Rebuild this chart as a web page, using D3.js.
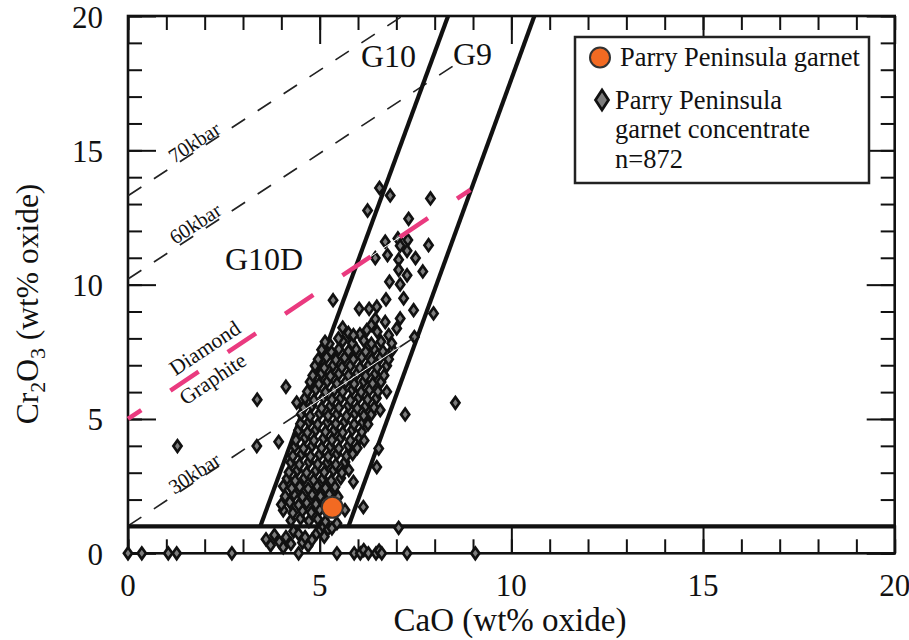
<!DOCTYPE html>
<html>
<head>
<meta charset="utf-8">
<script src="https://cdn.jsdelivr.net/npm/d3@7"></script>
<style>
  body { margin: 0; background: #fff; }
  svg { display: block; }
</style>
</head>
<body>
<svg id="chart" width="909" height="640" font-family="'Liberation Serif', 'DejaVu Serif', serif"></svg>
<script>
// ---- axis ranges and ticks ----
const caoDomain = [0, 20];
const crDomain = [0, 20];
const majorTicks = [0, 5, 10, 15, 20];
const minorTicks = [0, 1, 2, 3, 4, 5, 6, 7, 8, 9, 10, 11, 12, 13, 14, 15, 16, 17, 18, 19, 20];

// ---- classification boundaries, [CaO, Cr2O3] end points ----
const lowCrLimit = [[0, 1], [20, 1]];
const g10Divide = [[3.45, 1], [8.35, 20]];
const g9Limit = [[5.75, 1], [10.6, 20]];
const diamondGraphite = [[0, 5.0], [8.93, 13.53]];
const isobar30 = [[0, 1.02], [7.45, 8.02]];
const isobar60 = [[0, 10.21], [8.6, 18.25]];
const isobar70 = [[0, 13.31], [7.16, 20]];

// ---- Parry Peninsula garnet (single grain) ----
const parryGarnet = [[5.33, 1.71]];

// ---- garnet concentrate, [CaO, Cr2O3] ----
const concentrateBase = [
  [0.0, 0], [0.36, 0], [1.05, 0], [1.27, 0], [2.71, 0], [4.45, 0], [5.45, 0],
  [5.9, 0], [6.06, 0], [6.15, 0.12], [6.27, 0], [6.47, 0], [6.55, 0.1], [6.62, 0],
  [7.28, 0], [9.06, 0]
];
const concentrateLowBand = [
  [3.6, 0.52], [3.72, 0.3], [3.82, 0.68], [3.95, 0.42], [4.05, 0.22], [4.12, 0.6],
  [4.25, 0.35], [4.32, 0.82], [4.45, 0.72], [4.55, 0.4], [4.62, 0.6], [4.7, 0.28],
  [4.8, 0.5], [4.92, 0.74], [5.02, 0.88], [5.1, 0.99], [5.12, 0.62], [5.22, 0.9],
  [5.32, 0.93], [5.45, 1.12], [7.06, 0.95]
];
const concentrateCore = [
  [4.25, 1.22], [4.5, 1.3], [4.72, 1.2], [4.95, 1.28], [5.15, 1.18],
  [4.05, 1.6], [4.3, 1.5], [4.55, 1.58], [4.78, 1.52], [5.0, 1.62], [5.2, 1.5],
  [4.0, 1.82], [4.22, 1.9], [4.45, 1.8], [4.66, 1.88], [4.9, 1.83], [5.1, 1.92],
  [4.1, 2.12], [4.33, 2.2], [4.55, 2.1], [4.8, 2.18], [5.02, 2.12], [5.25, 2.2], [5.48, 2.1],
  [4.05, 2.5], [4.27, 2.42], [4.48, 2.48], [4.7, 2.4], [4.93, 2.5], [5.15, 2.43], [5.4, 2.47],
  [4.15, 2.78], [4.36, 2.7], [4.6, 2.8], [4.84, 2.72], [5.08, 2.78], [5.3, 2.7], [5.55, 2.8],
  [4.2, 3.02], [4.42, 3.1], [4.66, 3.0], [4.9, 3.08], [5.12, 3.02], [5.36, 3.1], [5.58, 3.0], [5.76, 3.1],
  [4.25, 3.38], [4.47, 3.3], [4.72, 3.4], [4.95, 3.32], [5.2, 3.38], [5.42, 3.3], [5.66, 3.4],
  [4.3, 3.62], [4.53, 3.7], [4.76, 3.6], [5.0, 3.68], [5.22, 3.6], [5.45, 3.7], [5.7, 3.62], [5.86, 3.7],
  [4.35, 3.98], [4.58, 3.9], [4.8, 4.0], [5.05, 3.92], [5.28, 3.98], [5.5, 3.9], [5.75, 4.0], [5.98, 3.92],
  [4.38, 4.22], [4.62, 4.3], [4.85, 4.2], [5.1, 4.28], [5.32, 4.22], [5.55, 4.3], [5.8, 4.2], [6.04, 4.28], [6.16, 4.2],
  [4.45, 4.58], [4.68, 4.5], [4.9, 4.6], [5.15, 4.52], [5.38, 4.58], [5.6, 4.5], [5.85, 4.6], [6.1, 4.52],
  [4.5, 4.82], [4.72, 4.9], [4.95, 4.8], [5.2, 4.88], [5.42, 4.82], [5.65, 4.9], [5.9, 4.8], [6.12, 4.88], [6.26, 4.8],
  [4.52, 5.18], [4.75, 5.1], [5.0, 5.2], [5.22, 5.12], [5.45, 5.18], [5.7, 5.1], [5.92, 5.2], [6.15, 5.12], [6.35, 5.18],
  [4.58, 5.42], [4.8, 5.5], [5.05, 5.4], [5.28, 5.48], [5.5, 5.42], [5.75, 5.5], [5.98, 5.4], [6.2, 5.48], [6.42, 5.42],
  [4.62, 5.78], [4.85, 5.7], [5.1, 5.8], [5.32, 5.72], [5.55, 5.78], [5.8, 5.7], [6.02, 5.8], [6.25, 5.72], [6.48, 5.78],
  [4.68, 6.02], [4.9, 6.1], [5.15, 6.0], [5.38, 6.08], [5.6, 6.02], [5.85, 6.1], [6.08, 6.0], [6.3, 6.08], [6.52, 6.02],
  [4.75, 6.38], [4.98, 6.3], [5.2, 6.4], [5.45, 6.32], [5.68, 6.38], [5.9, 6.3], [6.15, 6.4], [6.38, 6.32], [6.6, 6.38],
  [4.82, 6.62], [5.05, 6.7], [5.28, 6.6], [5.5, 6.68], [5.75, 6.62], [5.98, 6.7], [6.2, 6.6], [6.45, 6.68], [6.68, 6.62],
  [4.88, 6.98], [5.12, 6.9], [5.35, 7.0], [5.58, 6.92], [5.8, 6.98], [6.05, 6.9], [6.28, 7.0], [6.5, 6.92], [6.75, 6.98],
  [4.96, 7.22], [5.18, 7.3], [5.42, 7.2], [5.65, 7.28], [5.88, 7.22], [6.1, 7.3], [6.35, 7.2], [6.58, 7.28], [6.8, 7.22],
  [5.05, 7.58], [5.3, 7.5], [5.5, 7.6], [5.75, 7.52], [5.95, 7.6], [6.2, 7.5], [6.42, 7.6], [6.65, 7.52], [6.9, 7.58],
  [5.25, 7.8], [5.6, 7.9], [5.85, 7.82], [6.15, 7.92], [6.35, 7.8], [6.6, 7.88], [6.88, 7.82],
  [5.75, 8.2], [6.05, 8.15], [6.5, 8.25], [6.8, 8.12], [6.35, 8.5], [5.6, 8.4]
];
const concentrateUpper = [
  [6.56, 13.6], [6.84, 13.32], [7.89, 13.21], [6.25, 12.76], [7.32, 12.45],
  [6.71, 11.6], [7.04, 11.72], [7.3, 11.66], [7.84, 11.47], [7.1, 11.45],
  [7.28, 11.26], [6.45, 10.99], [6.77, 11.1], [7.06, 10.93], [7.5, 10.99],
  [7.06, 10.55], [7.28, 10.35], [7.69, 10.49], [6.82, 10.11], [7.1, 10.01],
  [5.35, 9.42], [6.73, 9.45], [7.19, 9.49], [6.03, 9.1], [6.29, 9.1], [6.49, 9.18],
  [7.45, 9.05], [7.97, 8.93], [6.45, 8.72], [6.71, 8.61], [7.1, 8.74], [7.01, 8.37],
  [7.47, 8.05], [6.23, 8.31], [5.88, 8.12], [5.49, 8.0], [5.14, 7.87]
];
const concentrateOutliers = [
  [5.66, 1.61], [6.14, 1.72], [5.88, 2.66], [6.49, 3.21], [6.54, 3.9], [7.23, 5.17],
  [6.58, 5.33], [6.75, 6.01], [8.54, 5.6], [1.29, 3.99], [3.36, 3.99], [3.93, 4.15],
  [3.37, 5.72], [4.12, 6.2], [4.4, 5.61]
];

const concentrate = [].concat(
  concentrateBase, concentrateLowBand, concentrateCore, concentrateUpper, concentrateOutliers
);

// ---- drawing ----
const svg = d3.select("#chart");
const x = d3.scaleLinear().domain(caoDomain).range([128, 894.7]);
const y = d3.scaleLinear().domain(crDomain).range([553.3, 16]);
const ink = "#111";

const line = d3.line().x(d => x(d[0])).y(d => y(d[1]));

// tick marks on all four sides, pointing inward
function tickAxis(axisGen, transform, values, size) {
  const g = svg.append("g").attr("transform", transform)
    .call(axisGen.tickValues(values).tickSize(-size).tickFormat(""));
  g.attr("font-family", null);
  g.select(".domain").remove();
  g.selectAll(".tick line").attr("stroke", ink).attr("stroke-width", 2);
  g.selectAll(".tick text").remove();
  return g;
}
tickAxis(d3.axisBottom(x), `translate(0,${y(0)})`, minorTicks, 14);
tickAxis(d3.axisBottom(x), `translate(0,${y(0)})`, majorTicks, 28);
tickAxis(d3.axisTop(x), `translate(0,${y(20)})`, minorTicks, 14);
tickAxis(d3.axisTop(x), `translate(0,${y(20)})`, majorTicks, 28);
tickAxis(d3.axisLeft(y), `translate(${x(0)},0)`, minorTicks, 14);
tickAxis(d3.axisLeft(y), `translate(${x(0)},0)`, majorTicks, 28);
tickAxis(d3.axisRight(y), `translate(${x(20)},0)`, minorTicks, 14);
tickAxis(d3.axisRight(y), `translate(${x(20)},0)`, majorTicks, 28);

// tick labels
svg.append("g").selectAll("text").data(majorTicks).join("text")
  .attr("x", d => x(d)).attr("y", y(0) + 43)
  .attr("text-anchor", "middle").attr("font-size", 31).attr("fill", ink).text(d => d);
svg.append("g").selectAll("text").data(majorTicks).join("text")
  .attr("x", x(0) - 25).attr("y", d => y(d) + 11.5)
  .attr("text-anchor", "end").attr("font-size", 31).attr("fill", ink).text(d => d);

// plot frame
svg.append("rect")
  .attr("x", x(0)).attr("y", y(20))
  .attr("width", x(20) - x(0)).attr("height", y(0) - y(20))
  .attr("fill", "none").attr("stroke", ink).attr("stroke-width", 2.6);

// pressure isobars
[isobar70, isobar60, isobar30].forEach(seg => {
  svg.append("path").attr("d", line(seg))
    .attr("fill", "none").attr("stroke", "#222").attr("stroke-width", 1.7)
    .attr("stroke-dasharray", "16 15");
});

// garnet field boundaries
[lowCrLimit, g10Divide, g9Limit].forEach(seg => {
  svg.append("path").attr("d", line(seg))
    .attr("fill", "none").attr("stroke", ink).attr("stroke-width", 4.2);
});

// concentrate grains
const diamond = "M0,-5.8L4.1,0L0,5.8L-4.1,0Z";
svg.append("g").selectAll("path").data(concentrate).join("path")
  .attr("d", diamond)
  .attr("transform", d => `translate(${x(d[0])},${y(d[1])})`)
  .attr("fill", "#7d7d7d").attr("stroke", ink).attr("stroke-width", 2.7)
  .attr("stroke-linejoin", "miter");

// hairlines where the 30 kbar and diamond–graphite lines cross the grain cloud
function subSeg(seg, a, b) {
  const f = c => seg[0][1] + (c - seg[0][0]) * (seg[1][1] - seg[0][1]) / (seg[1][0] - seg[0][0]);
  return [[a, f(a)], [b, f(b)]];
}
svg.append("path").attr("d", line(subSeg(isobar30, 4.45, 7.1)))
  .attr("stroke", "#fff").attr("stroke-width", 1).attr("fill", "none");
svg.append("path").attr("d", line(subSeg(isobar30, 7.1, 7.45)))
  .attr("stroke", "#222").attr("stroke-width", 1.7).attr("fill", "none");
svg.append("path").attr("d", line(subSeg(diamondGraphite, 4.9, 7.4)))
  .attr("stroke", "#fff").attr("stroke-width", 1).attr("fill", "none");

// diamond–graphite boundary
svg.append("path").attr("d", line(diamondGraphite))
  .attr("fill", "none").attr("stroke", "#ea3a7f").attr("stroke-width", 4.5)
  .attr("stroke-dasharray", "34 35").attr("stroke-dashoffset", 18);

// single garnet
svg.append("g").selectAll("circle").data(parryGarnet).join("circle")
  .attr("cx", d => x(d[0])).attr("cy", d => y(d[1])).attr("r", 10.5)
  .attr("fill", "#f26a22").attr("stroke", "#333").attr("stroke-width", 2);

// labels that run along a boundary
function lineLabel(seg, cao, offset, label, size) {
  const x0 = x(seg[0][0]), y0 = y(seg[0][1]), x1 = x(seg[1][0]), y1 = y(seg[1][1]);
  const ang = Math.atan2(y1 - y0, x1 - x0) * 180 / Math.PI;
  const t = (cao - seg[0][0]) / (seg[1][0] - seg[0][0]);
  const px = x0 + t * (x1 - x0), py = y0 + t * (y1 - y0);
  svg.append("text")
    .attr("transform", `translate(${px},${py}) rotate(${ang})`)
    .attr("y", -offset).attr("text-anchor", "middle")
    .attr("font-size", size).attr("fill", ink).text(label);
}
lineLabel(isobar70, 1.85, 1.5, "70kbar", 20.5);
lineLabel(isobar60, 1.89, 2.5, "60kbar", 20.5);
lineLabel(isobar30, 1.84, 0.5, "30kbar", 20.5);
lineLabel(diamondGraphite, 2.24, 9, "Diamond", 21.5);
lineLabel(diamondGraphite, 2.01, -21, "Graphite", 21.5);

// field names
const fieldNames = [["G10", 361, 66.5], ["G9", 453, 65], ["G10D", 225, 270]];
svg.append("g").selectAll("text").data(fieldNames).join("text")
  .attr("x", d => d[1]).attr("y", d => d[2]).attr("font-size", 32).attr("fill", ink).text(d => d[0]);

// axis titles
svg.append("text").attr("x", 510).attr("y", 631).attr("text-anchor", "middle")
  .attr("font-size", 33).attr("fill", ink).text("CaO (wt% oxide)");
const yTitle = svg.append("text").attr("transform", "translate(38,304) rotate(-90)")
  .attr("text-anchor", "middle").attr("font-size", 31.5).attr("fill", ink);
yTitle.append("tspan").text("Cr");
yTitle.append("tspan").attr("dy", 7).attr("font-size", 22).text("2");
yTitle.append("tspan").attr("dy", -7).text("O");
yTitle.append("tspan").attr("dy", 7).attr("font-size", 22).text("3");
yTitle.append("tspan").attr("dy", -7).text(" (wt% oxide)");

// legend
const legend = svg.append("g");
legend.append("rect").attr("x", 575).attr("y", 37).attr("width", 294).attr("height", 146)
  .attr("fill", "#fff").attr("stroke", "#222").attr("stroke-width", 2.5);
legend.append("circle").attr("cx", 600).attr("cy", 57.5).attr("r", 10)
  .attr("fill", "#f26a22").attr("stroke", "#333").attr("stroke-width", 2);
legend.append("text").attr("x", 620).attr("y", 65.5).attr("font-size", 26.5).attr("fill", ink)
  .text("Parry Peninsula garnet");
legend.append("path").attr("d", "M0,-10L6.5,0L0,10L-6.5,0Z").attr("transform", "translate(602,100)")
  .attr("fill", "#7d7d7d").attr("stroke", ink).attr("stroke-width", 2.8);
["Parry Peninsula", "garnet concentrate", "n=872"].forEach((s, i) => {
  legend.append("text").attr("x", 615).attr("y", 108.5 + i * 29.5).attr("font-size", 26.5)
    .attr("fill", ink).text(s);
});
</script>
</body>
</html>
